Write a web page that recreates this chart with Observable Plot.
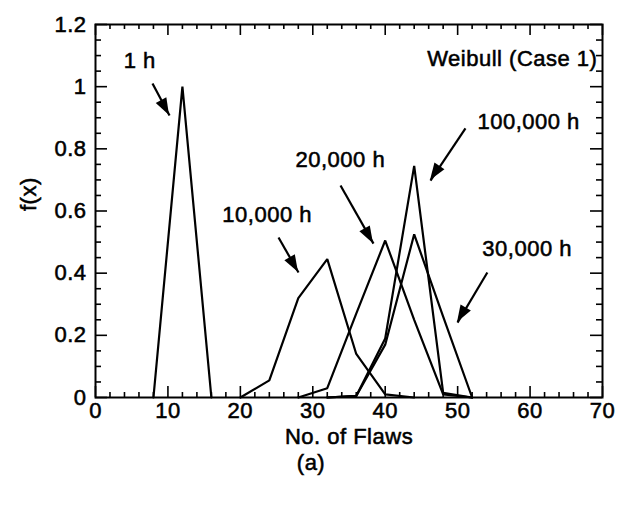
<!DOCTYPE html>
<html><head><meta charset="utf-8">
<script src="https://cdn.jsdelivr.net/npm/d3@7"></script>
<script src="https://cdn.jsdelivr.net/npm/@observablehq/plot@0.6"></script>
<style>
body{margin:0;background:#fff;}
#chart svg{display:block;}
#chart svg text{stroke:black;stroke-width:0.55px;}
</style>
</head><body><div id="chart"></div>
<script>
// ---- data ----
const seriesNames = ["1 h", "10,000 h", "20,000 h", "30,000 h", "100,000 h"];
const x_1h    = [8, 12, 16];
const f_1h    = [0, 1.0, 0];
const x_10k   = [20, 24, 28, 32, 36, 40, 44];
const f_10k   = [0, 0.055, 0.32, 0.445, 0.14, 0.01, 0];
const x_20k   = [28, 32, 36, 40, 44, 48, 52];
const f_20k   = [0, 0.03, 0.27, 0.505, 0.25, 0.01, 0];
const x_30k   = [32, 36, 40, 44, 48, 52];
const f_30k   = [0, 0.005, 0.17, 0.525, 0.26, 0];
const x_100k  = [32, 36, 40, 44, 48, 52];
const f_100k  = [0, 0.005, 0.19, 0.745, 0.015, 0];

const xTickLabels = [0, 10, 20, 30, 40, 50, 60, 70];
const yTickLabels = [0, 0.2, 0.4, 0.6, 0.8, 1, 1.2];

// annotation labels and arrows
const noteText = ["1 h", "10,000 h", "20,000 h", "30,000 h", "100,000 h"];
const noteX    = [6.1, 23.7, 33.8, 59.6, 59.8];
const noteY    = [1.084, 0.586, 0.763, 0.479, 0.885];
const arrX1 = [7.87, 25.27, 33.83, 54.1, 51.08];
const arrY1 = [1.010, 0.515, 0.682, 0.402, 0.866];
const arrX2 = [10.22, 28.03, 38.38, 49.98, 46.25];
const arrY2 = [0.907, 0.402, 0.495, 0.241, 0.698];
const cornerText = ["Weibull (Case 1)"];
const cornerX = [69.3];
const cornerY = [1.088];

const xLabel = ["No. of Flaws"];
const yLabel = ["f(x)"];
const panelLabel = ["(a)"];

// ---- build table ----
const xsList = [x_1h, x_10k, x_20k, x_30k, x_100k];
const fsList = [f_1h, f_10k, f_20k, f_30k, f_100k];
const rows = [];
seriesNames.forEach((s, i) => xsList[i].forEach((x, j) => rows.push({series: s, x, f: fsList[i][j]})));
const arrows = arrX1.map((_, i) => ({x1: arrX1[i], y1: arrY1[i], x2: arrX2[i], y2: arrY2[i]}));
const notes = noteText.map((t, i) => ({t, x: noteX[i], y: noteY[i]}));

const W = 620, H = 508;
const mL = 95, mR = 18, mT = 24, mB = 111;
const fw = W - mL - mR, fh = H - mT - mB;

const xMajor = xTickLabels;
const xMinor = d3.range(0, 71, 2).filter(v => v % 10 !== 0);
const yMajor = yTickLabels;
const yMinor = d3.range(0, 25).map(i => i * 0.05).filter((v, i) => i % 4 !== 0);

const font = "'Liberation Sans', Arial, Helvetica, sans-serif";

function arrowHeads(index, scales) {
  const g = d3.create("svg:g");
  arrows.forEach(a => {
    const x1 = scales.x(a.x1), y1 = scales.y(a.y1), x2 = scales.x(a.x2), y2 = scales.y(a.y2);
    const ang = Math.atan2(y2 - y1, x2 - x1);
    const L = 17, hw = 6;
    const bx = x2 - L * Math.cos(ang), by = y2 - L * Math.sin(ang);
    const px = -Math.sin(ang) * hw, py = Math.cos(ang) * hw;
    g.append("path")
      .attr("d", `M${x2},${y2}L${bx + px},${by + py}L${bx - px},${by - py}Z`)
      .attr("fill", "black");
  });
  return g.node();
}

const chart = Plot.plot({
  width: W, height: H,
  marginLeft: mL, marginRight: mR, marginTop: mT, marginBottom: mB,
  style: {fontFamily: font, fontSize: "22px", color: "black", background: "white", letterSpacing: "0.5px"},
  x: {domain: [0, 70], ticks: xTickLabels, tickSize: 0, tickPadding: 5, label: null, tickFormat: d => String(d)},
  y: {domain: [0, 1.2], ticks: yTickLabels, tickSize: 0, tickPadding: 9, label: null, tickFormat: d => String(d)},
  marks: [
    // inward ticks: bottom & top
    Plot.ruleX(xMajor, {x: d => d, insetTop: fh - 11, stroke: "black", strokeWidth: 1.6}),
    Plot.ruleX(xMinor, {x: d => d, insetTop: fh - 5, stroke: "black", strokeWidth: 1.6}),
    Plot.ruleX(xMajor, {x: d => d, insetBottom: fh - 11, stroke: "black", strokeWidth: 1.6}),
    Plot.ruleX(xMinor, {x: d => d, insetBottom: fh - 5, stroke: "black", strokeWidth: 1.6}),
    // inward ticks: left & right
    Plot.ruleY(yMajor, {y: d => d, insetRight: fw - 12, stroke: "black", strokeWidth: 1.6}),
    Plot.ruleY(yMinor, {y: d => d, insetRight: fw - 6, stroke: "black", strokeWidth: 1.6}),
    Plot.ruleY(yMajor, {y: d => d, insetLeft: fw - 12, stroke: "black", strokeWidth: 1.6}),
    Plot.ruleY(yMinor, {y: d => d, insetLeft: fw - 6, stroke: "black", strokeWidth: 1.6}),
    Plot.frame({stroke: "black", strokeWidth: 2}),
    Plot.line(rows, {x: "x", y: "f", z: "series", stroke: "black", strokeWidth: 2.2, strokeLinejoin: "miter"}),
    Plot.link(arrows, {x1: "x1", y1: "y1", x2: "x2", y2: "y2", stroke: "black", strokeWidth: 2.2}),
    arrowHeads,
    Plot.text(notes, {x: "x", y: "y", text: "t", textAnchor: "middle", fontSize: 22, fill: "black"}),
    Plot.text(cornerText, {x: () => cornerX[0], y: () => cornerY[0], text: d => d, textAnchor: "end", fontSize: 22, fill: "black"}),
    Plot.text(xLabel, {frameAnchor: "bottom", dy: 46, text: d => d, fontSize: 22, fill: "black"}),
    Plot.text(yLabel, {frameAnchor: "left", dx: -67, rotate: -90, text: d => d, fontSize: 22, fill: "black"}),
    Plot.text(panelLabel, {frameAnchor: "bottom", dx: -38, dy: 72, text: d => d, fontSize: 22, fill: "black"})
  ]
});
document.getElementById("chart").append(chart);
</script>
</body></html>
